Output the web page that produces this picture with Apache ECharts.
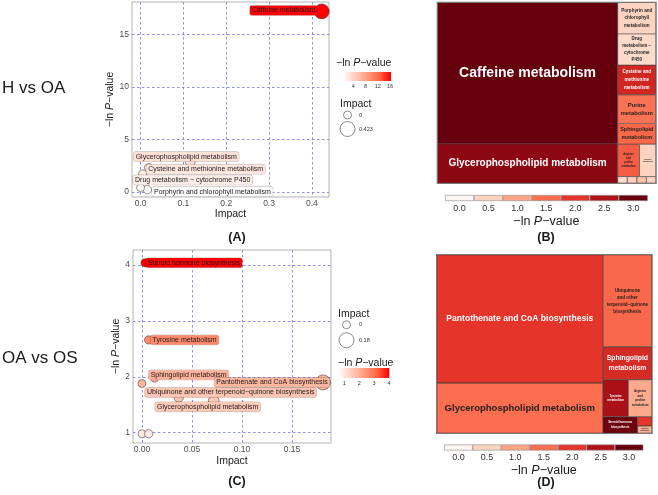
<!DOCTYPE html>
<html>
<head>
<meta charset="utf-8">
<title>pathway analysis</title>
<script src="https://cdn.jsdelivr.net/npm/echarts@6.0.0/dist/echarts.min.js"></script>
<style>
  html, body { margin: 0; padding: 0; background: #fff; }
  #chart { width: 658px; height: 495px; }
</style>
</head>
<body>
<div id="chart"></div>
<script>
// ---------- (A) H vs OA : impact vs -ln P ----------
const pathA = [
  'Caffeine metabolism',
  'Glycerophospholipid metabolism',
  'Cysteine and methionine metabolism',
  'Drug metabolism − cytochrome P450',
  'Porphyrin and chlorophyll metabolism',
  'Purine metabolism'
];
const impactA = [0.423, 0.116, 0.019, 0.005, 0.016, 0.0];
const lnpA = [17.2, 2.87, 2.3, 1.7, 0.2, 0.4];
const sizeKeysA = [0, 0.423];
const limitsA = [0.2, 17.2];

// ---------- (C) OA vs OS ----------
const pathC = [
  'Steroid hormone biosynthesis',
  'Tyrosine metabolism',
  'Sphingolipid metabolism',
  'Pantothenate and CoA biosynthesis',
  'Ubiquinone and other terpenoid−quinone biosynthesis',
  'Glycerophospholipid metabolism',
  'Arginine and proline metabolism',
  'Purine metabolism',
  'Pyrimidine metabolism'
];
const impactC = [0.003, 0.0066, 0.0126, 0.181, 0.0367, 0.0717, 0.0, 0.0, 0.0067];
const lnpC = [4.04, 2.66, 1.98, 1.90, 1.63, 1.57, 1.88, 0.98, 0.98];
const sizeKeysC = [0, 0.18];
const limitsC = [0.6, 4.04];

// ---------- (B) treemap H vs OA ----------
const treeNamesB = [
  'Caffeine metabolism', 'Glycerophospholipid metabolism',
  'Porphyrin and chlorophyll metabolism', 'Drug metabolism − cytochrome P450',
  'Cysteine and methionine metabolism', 'Purine metabolism', 'Sphingolipid metabolism',
  'Arginine and proline metabolism', 'Tyrosine metabolism',
  'Steroid hormone biosynthesis', 'Pantothenate and CoA biosynthesis',
  'Ubiquinone and other terpenoid−quinone biosynthesis', 'Pyrimidine metabolism'
];
const treeSizeB = [25900, 7210, 1220, 1215, 1152, 1114, 806, 724, 540, 64, 64, 64, 64];
const treeLnpB = [3.2, 2.75, 0.5, 0.4, 2.2, 1.45, 1.55, 1.65, 0.5, 0.5, 0.7, 0.55, 0.4];

// ---------- (D) treemap OA vs OS ----------
const treeNamesD = [
  'Pantothenate and CoA biosynthesis', 'Glycerophospholipid metabolism',
  'Ubiquinone and other terpenoid−quinone biosynthesis', 'Sphingolipid metabolism',
  'Tyrosine metabolism', 'Arginine and proline metabolism',
  'Steroid hormone biosynthesis', 'Purine metabolism', 'Pyrimidine metabolism'
];
const treeSizeD = [21632, 8482, 4579, 1645, 958, 884, 584, 134, 105];
const treeLnpD = [2.0, 1.5, 1.55, 2.15, 2.55, 0.95, 2.95, 2.0, 0.85];

// treemap legend bins
const binVals = [0.0, 0.5, 1.0, 1.5, 2.0, 2.5, 3.0];

// ---------- styles ----------
const FONT = '"Liberation Sans", Arial, Helvetica, sans-serif';
const GRID_BLUE = '#7474ee';
const gradStops = ['#ffffff', '#ffcfbf', '#ff9e81', '#ff6846', '#ff0000'];
const treePalette = ['#FFF5F0', '#FDD4C2', '#FCA486', '#FB6E4F', '#E5352A', '#B11218', '#67000D'];

// label offsets (label centre relative to point), by pathway
const shiftA = {
  'Caffeine metabolism': [-38, -1],
  'Glycerophospholipid metabolism': [-4, -5],
  'Cysteine and methionine metabolism': [57, 1.5],
  'Drug metabolism − cytochrome P450': [50, 6],
  'Porphyrin and chlorophyll metabolism': [65, 2]
};
const shiftC = {
  'Steroid hormone biosynthesis': [49, 0],
  'Tyrosine metabolism': [36, 0],
  'Sphingolipid metabolism': [34, -3],
  'Pantothenate and CoA biosynthesis': [-51, 0],
  'Ubiquinone and other terpenoid−quinone biosynthesis': [52, -5],
  'Glycerophospholipid metabolism': [-6, 6]
};

// treemap cell text (wrapped), font size, line height
const cellTextB = {
  'Caffeine metabolism': ['Caffeine metabolism', 14, 16],
  'Glycerophospholipid metabolism': ['Glycerophospholipid metabolism', 10, 12],
  'Porphyrin and chlorophyll metabolism': ['Porphyrin and\nchlorophyll\nmetabolism', 4.6, 7.2],
  'Drug metabolism − cytochrome P450': ['Drug\nmetabolism −\ncytochrome\nP450', 4.5, 6.9],
  'Cysteine and methionine metabolism': ['Cysteine and\nmethionine\nmetabolism', 4.6, 8],
  'Purine metabolism': ['Purine\nmetabolism', 5.8, 8.3],
  'Sphingolipid metabolism': ['Sphingolipid\nmetabolism', 5.5, 7.7],
  'Arginine and proline metabolism': ['Arginine\nand\nproline\nmetabolism', 2.6, 4],
  'Tyrosine metabolism': ['Tyrosine\nmetabolism', 1.8, 2.6]
};
const cellTextD = {
  'Pantothenate and CoA biosynthesis': ['Pantothenate and CoA biosynthesis', 8.6, 10],
  'Glycerophospholipid metabolism': ['Glycerophospholipid metabolism', 9.5, 11],
  'Ubiquinone and other terpenoid−quinone biosynthesis': ['Ubiquinone\nand other\nterpenoid−quinone\nbiosynthesis', 4.6, 7],
  'Sphingolipid metabolism': ['Sphingolipid\nmetabolism', 6.8, 10],
  'Tyrosine metabolism': ['Tyrosine\nmetabolism', 3, 4.5],
  'Arginine and proline metabolism': ['Arginine\nand\nproline\nmetabolism', 3, 4.4],
  'Steroid hormone biosynthesis': ['Steroid hormone\nbiosynthesis', 3, 4.8],
  'Pyrimidine metabolism': ['Pyrimidine\nmetabolism', 1.5, 2.2]
};

// ---------- helpers ----------
function hexToRgb(h) { return [1, 3, 5].map(i => parseInt(h.slice(i, i + 2), 16)); }
function mix(stops, t) {
  t = Math.max(0, Math.min(1, t));
  const n = stops.length - 1;
  const k = Math.min(n - 1, Math.floor(t * n));
  const f = t * n - k;
  const a = hexToRgb(stops[k]), b = hexToRgb(stops[k + 1]);
  return 'rgb(' + a.map((v, i) => Math.round(v + (b[i] - v) * f)).join(',') + ')';
}
const colorA = v => mix(gradStops, (v - limitsA[0]) / (limitsA[1] - limitsA[0]));
const colorC = v => mix(gradStops, (v - limitsC[0]) / (limitsC[1] - limitsC[0]));
const treeColor = v => mix(treePalette, v / 3);

const maxImpA = Math.max(...impactA);
const maxImpC = Math.max(...impactC);
const sizeA = v => 8 + 7 * v / maxImpA;
const sizeC = v => 8 + 7 * v / maxImpC;

function onStep(v, step) { const r = v / step; return Math.abs(r - Math.round(r)) < 1e-6; }

const lnpName = fs => ({
  text: '{a|−ln }{i|P}{a|−value}',
  rich: {
    a: { fontSize: fs, fontFamily: FONT, fill: '#1a1a1a', color: '#1a1a1a' },
    i: { fontSize: fs, fontFamily: FONT, fontStyle: 'italic', fill: '#1a1a1a', color: '#1a1a1a' }
  }
});

function scatterData(names, imps, lnps, colorFn, shifts) {
  return names.map((n, i) => {
    const c = colorFn(lnps[i]);
    const sh = shifts[n];
    return {
      name: n,
      value: [imps[i], lnps[i]],
      itemStyle: { color: c },
      label: sh ? { show: true, offset: sh, backgroundColor: c } : { show: false }
    };
  });
}

function buildTree(names, sizes, lnps, nMajor, texts) {
  const leaf = i => {
    const t = texts[names[i]];
    const v = lnps[i];
    return {
      name: names[i],
      value: sizes[i],
      itemStyle: { color: treeColor(v) },
      label: t
        ? { show: true, fontSize: t[1], lineHeight: t[2], color: v >= 1.9 ? '#ffffff' : '#1f1f1f' }
        : { show: false }
    };
  };
  const idx = names.map((_, i) => i);
  return [
    { name: 'major', children: idx.slice(0, nMajor).map(leaf) },
    { name: 'minor', children: idx.slice(nMajor).map(leaf) }
  ];
}

function mainAxes(gi, xr, yr, xStep, xDigits, yStep, xGap, yGap, yDigits) {
  const split = { show: true, showMinLine: false, showMaxLine: false, lineStyle: { color: GRID_BLUE, type: [2.5, 2.5], width: 0.8 } };
  const lab = { fontSize: 8.5, fontFamily: FONT, color: '#4d4d4d' };
  const nm = lnpName(10.5);
  return {
    x: {
      gridIndex: gi, type: 'value', min: xr[0], max: xr[1], splitNumber: xr[2],
      axisLine: { show: false }, axisTick: { show: false }, splitLine: split,
      axisLabel: Object.assign({ margin: 2, formatter: v => onStep(v, xStep) ? v.toFixed(xDigits) : '' }, lab),
      name: 'Impact', nameLocation: 'middle', nameGap: xGap,
      nameTextStyle: { fontSize: 10.5, fontFamily: FONT, color: '#1a1a1a' }
    },
    y: {
      gridIndex: gi, type: 'value', min: yr[0], max: yr[1], splitNumber: yr[2],
      axisLine: { show: false }, axisTick: { show: false }, splitLine: split,
      axisLabel: Object.assign({ margin: 3, formatter: v => onStep(v, yStep) ? v.toFixed(yDigits) : '' }, lab),
      name: nm.text, nameLocation: 'middle', nameGap: yGap,
      nameTextStyle: { fontSize: 10.5, fontFamily: FONT, color: '#1a1a1a', rich: nm.rich }
    }
  };
}

const axA = mainAxes(0, [-0.02, 0.44, 5], [-0.5, 18.1, 4], 0.1, 1, 5, 9.5, 14.5, 0);
const axC = mainAxes(1, [-0.009, 0.189, 4], [0.815, 4.27, 4], 0.05, 2, 1, 13, 9.5, 0);

const hidden = gi => ({ gridIndex: gi, type: 'value', min: 0, max: 1, show: false });

const gradBar = (gi, lo, hi) => ({
  type: 'custom', xAxisIndex: gi, yAxisIndex: gi, silent: true, clip: false,
  encode: { x: [0, 1] },
  data: [[lo, hi]],
  renderItem: (params, api) => {
    const p0 = api.coord([api.value(0), 0]);
    const p1 = api.coord([api.value(1), 1]);
    return {
      type: 'rect',
      shape: { x: p0[0], y: p1[1], width: p1[0] - p0[0], height: p0[1] - p1[1] },
      style: { fill: new echarts.graphic.LinearGradient(0, 0, 1, 0,
        gradStops.map((c, i) => ({ offset: i / (gradStops.length - 1), color: c }))) }
    };
  }
});

const gradAxis = (gi, max, step) => ({
  gridIndex: gi, type: 'value', min: 0, max: max, interval: step,
  axisLine: { show: false }, axisTick: { show: false }, splitLine: { show: false },
  axisLabel: { fontSize: 5.5, fontFamily: FONT, color: '#333', margin: 2,
    formatter: v => (v > 0 && onStep(v, step)) ? String(v) : '' }
});

const sizeAxisY = (gi, keys) => ({
  gridIndex: gi, type: 'category', data: keys.map(String), inverse: true, position: 'right',
  axisLine: { show: false }, axisTick: { show: false }, splitLine: { show: false },
  axisLabel: { fontSize: 5.5, fontFamily: FONT, color: '#333', margin: 2 }
});

const sizeLegend = (gi, keys, sizeFn) => ({
  type: 'scatter', xAxisIndex: gi, yAxisIndex: gi, silent: true,
  data: keys.map(k => [0.5, String(k)]),
  symbolSize: v => sizeFn(+v[1]),
  itemStyle: { color: '#fff', borderColor: '#333', borderWidth: 0.7 }
});

const binAxis = gi => {
  const nm = lnpName(12.5);
  return {
    gridIndex: gi, type: 'category', data: binVals.map(v => v.toFixed(1)),
    axisLine: { show: false }, axisTick: { show: false },
    axisLabel: { fontSize: 9, fontFamily: FONT, color: '#333', margin: 3 },
    name: nm.text, nameLocation: 'middle', nameGap: 14,
    nameTextStyle: { fontSize: 12.5, fontFamily: FONT, color: '#1a1a1a', rich: nm.rich }
  };
};
const binBar = gi => ({
  type: 'bar', xAxisIndex: gi, yAxisIndex: gi, silent: true,
  barWidth: '100%', barCategoryGap: 0,
  data: binVals.map(v => ({ value: 1, itemStyle: { color: treeColor(v) } })),
  itemStyle: { borderColor: '#8c8c8c', borderWidth: 0.6 }
});

const scatterLabel = {
  show: true, position: 'inside', formatter: '{b}',
  fontSize: 7, fontFamily: FONT, color: '#1a1a1a',
  padding: [1.5, 2, 1, 2], borderRadius: 2,
  borderColor: 'rgba(0,0,0,0.3)', borderWidth: 0.5
};

const treemapBase = {
  type: 'treemap', roam: false, nodeClick: false, breadcrumb: { show: false },
  squareRatio: 1, visibleMin: 0, silent: true, animation: false,
  label: { show: true, position: 'inside', fontFamily: FONT, fontWeight: 'bold',
    padding: 0, overflow: 'none', align: 'center', verticalAlign: 'middle' },
  upperLabel: { show: false },
  levels: [
    { itemStyle: { borderWidth: 0.8, borderColor: '#6a6a6a', gapWidth: 0 } },
    { itemStyle: { borderWidth: 0, gapWidth: 0 } },
    { itemStyle: { borderWidth: 0.45, borderColor: '#3a3a3a', gapWidth: 0 } }
  ]
};

const gridBox = { show: true, borderColor: '#b3b3b3', borderWidth: 1, backgroundColor: '#fff', outerBoundsMode: 'none' };
const plain = { outerBoundsMode: 'none' };

const txt = (x, y, text, size, opts) => ({
  type: 'text', x: x, y: y, silent: true,
  style: Object.assign({ text: text, fontSize: size, fontFamily: FONT, fill: '#1a1a1a',
    align: 'left', verticalAlign: 'middle' }, opts || {})
});
const richTxt = (x, y, size) => {
  const nm = lnpName(size);
  return { type: 'text', x: x, y: y, silent: true,
    style: { text: nm.text, rich: nm.rich, fontSize: size, fontFamily: FONT, fill: '#1a1a1a',
      align: 'left', verticalAlign: 'middle' } };
};

const chart = echarts.init(document.getElementById('chart'));
chart.setOption({
  animation: false,
  backgroundColor: '#fff',
  grid: [
    Object.assign({ left: 132, top: 2, width: 197, height: 195 }, gridBox),
    Object.assign({ left: 133, top: 250, width: 198, height: 193 }, gridBox),
    Object.assign({ left: 341.1, top: 72, width: 49.9, height: 9 }, plain),
    Object.assign({ left: 338, top: 108, width: 19, height: 28 }, plain),
    Object.assign({ left: 336, top: 317, width: 21, height: 31 }, plain),
    Object.assign({ left: 329.4, top: 368, width: 59.9, height: 10 }, plain),
    Object.assign({ left: 445, top: 195, width: 202.7, height: 6 }, plain),
    Object.assign({ left: 444.3, top: 444.5, width: 199, height: 6 }, plain)
  ],
  xAxis: [
    axA.x, axC.x,
    gradAxis(2, 16.3, 4),
    hidden(3), hidden(4),
    gradAxis(5, 4.02, 1),
    binAxis(6), binAxis(7)
  ],
  yAxis: [
    axA.y, axC.y,
    hidden(2),
    sizeAxisY(3, sizeKeysA), sizeAxisY(4, sizeKeysC),
    hidden(5), hidden(6), hidden(7)
  ],
  series: [
    {
      type: 'scatter', xAxisIndex: 0, yAxisIndex: 0, silent: true,
      data: scatterData(pathA, impactA, lnpA, colorA, shiftA),
      symbolSize: v => sizeA(v[0]),
      itemStyle: { borderColor: '#444', borderWidth: 0.6, opacity: 1 },
      label: scatterLabel
    },
    {
      type: 'scatter', xAxisIndex: 1, yAxisIndex: 1, silent: true,
      data: scatterData(pathC, impactC, lnpC, colorC, shiftC),
      symbolSize: v => sizeC(v[0]),
      itemStyle: { borderColor: '#444', borderWidth: 0.6, opacity: 1 },
      label: scatterLabel
    },
    gradBar(2, 0.5, 16.3),
    sizeLegend(3, sizeKeysA, sizeA),
    sizeLegend(4, sizeKeysC, sizeC),
    gradBar(5, 0.58, 4.02),
    binBar(6),
    binBar(7),
    Object.assign({}, treemapBase, {
      left: 436.7, top: 1.7, width: 220, height: 182.3,
      label: Object.assign({}, treemapBase.label, { formatter: p => (cellTextB[p.name] || [''])[0] }),
      data: buildTree(treeNamesB, treeSizeB, treeLnpB, 2, cellTextB)
    }),
    Object.assign({}, treemapBase, {
      left: 436, top: 254, width: 216.7, height: 180,
      label: Object.assign({}, treemapBase.label, { formatter: p => (cellTextD[p.name] || [''])[0] }),
      data: buildTree(treeNamesD, treeSizeD, treeLnpD, 2, cellTextD)
    })
  ],
  graphic: [
    txt(2, 88, 'H vs OA', 17),
    txt(2, 358, 'OA vs OS', 17),
    txt(237, 238, '(A)', 12.5, { align: 'center', fontWeight: 'bold' }),
    txt(546, 238, '(B)', 12.5, { align: 'center', fontWeight: 'bold' }),
    txt(237, 482, '(C)', 12.5, { align: 'center', fontWeight: 'bold' }),
    txt(546, 483, '(D)', 12.5, { align: 'center', fontWeight: 'bold' }),
    richTxt(336, 63, 10.5),
    txt(340, 104, 'Impact', 10.5),
    txt(338, 314, 'Impact', 10.5),
    richTxt(338, 363, 10.5)
  ]
});
</script>
</body>
</html>
